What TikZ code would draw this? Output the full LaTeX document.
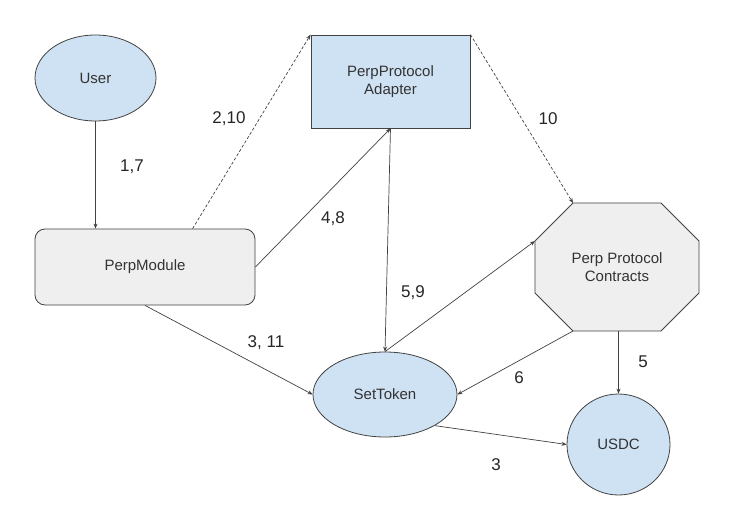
\documentclass[tikz,border=0pt]{standalone}
\usepackage{fontspec}
\setmainfont{Liberation Sans}
\usetikzlibrary{arrows.meta,calc,shapes.geometric}
\definecolor{blueF}{HTML}{CFE2F3}
\definecolor{greyF}{HTML}{EFEFEF}
\definecolor{lineC}{HTML}{424242}
\begin{document}
\begin{tikzpicture}[x=1pt,y=-1pt,
  lbl/.style={font=\fontsize{17}{20}\selectfont, text=black!85, inner sep=0pt},
  box/.style={draw=lineC, line width=0.8pt, font=\fontsize{15}{18}\selectfont, text=black!80, align=center, inner sep=0pt},
  conn/.style={draw=lineC, line width=0.7pt, -{Stealth[length=5pt,width=4pt]}},
  dconn/.style={conn, dash pattern=on 3pt off 2pt}]
\useasboundingbox (0,0) rectangle (749,521);
\fill[white] (0,0) rectangle (749,521);

% nodes
\node[box, ellipse, fill=blueF, minimum width=121pt, minimum height=86pt] (user) at (95.5,78) {User};
\node[box, rectangle, rounded corners=10pt, fill=greyF, minimum width=220pt, minimum height=76pt] (pm) at (145,267) {PerpModule};
\node[box, rectangle, fill=blueF, minimum width=159pt, minimum height=93pt] (ad) at (390.5,81.5) {PerpProtocol\\Adapter};
% octagon
\coordinate (o1) at (573,203);
\coordinate (o2) at (661,203);
\coordinate (o3) at (699,241);
\coordinate (o4) at (699,293);
\coordinate (o5) at (661,331);
\coordinate (o6) at (573,331);
\coordinate (o7) at (535,293);
\coordinate (o8) at (535,241);
\draw[draw=lineC, line width=0.8pt, fill=greyF] (o1) -- (o2) -- (o3) -- (o4) -- (o5) -- (o6) -- (o7) -- (o8) -- cycle;
\node[box, draw=none, minimum width=164pt, minimum height=128pt] (ppc) at (617,267) {Perp Protocol\\Contracts};
\node[box, ellipse, fill=blueF, minimum width=144pt, minimum height=85pt] (st) at (385,394.5) {SetToken};
\node[box, ellipse, fill=blueF, minimum width=103pt, minimum height=101pt] (usdc) at (618.5,444.5) {USDC};

% connectors
\draw[conn] (user.south) -- (user.south |- pm.north);
\draw[dconn] ([xshift=158pt]pm.north west) -- (ad.north west);
\draw[conn] (pm.east) -- (ad.south);
\draw[dconn] (ad.north east) -- (o1);
\draw[conn] (ad.south) -- (st.north);
\draw[conn] (st.north) -- (o8);
\draw[conn] (o6) -- (st.east);
\draw[conn] (ppc.south -| usdc.north) -- (usdc.north);
\draw[conn] (pm.south) -- (st.west);
\draw[conn] (st.-32) -- (usdc.west);

% labels
\node[lbl] (l17) at (132,167) {1,7};
\node[lbl] (l210) at (229,119) {2,10};
\node[lbl] (l48) at (333,219) {4,8};
\node[lbl] (l10) at (548,119) {10};
\node[lbl] (l59) at (413,293) {5,9};
\node[lbl] (l311) at (266,343) {3, 11};
\node[lbl] (l6) at (519,378) {6};
\node[lbl] (l5) at (643,362) {5};
\node[lbl] (l3) at (496,465) {3};
\end{tikzpicture}
\end{document}
